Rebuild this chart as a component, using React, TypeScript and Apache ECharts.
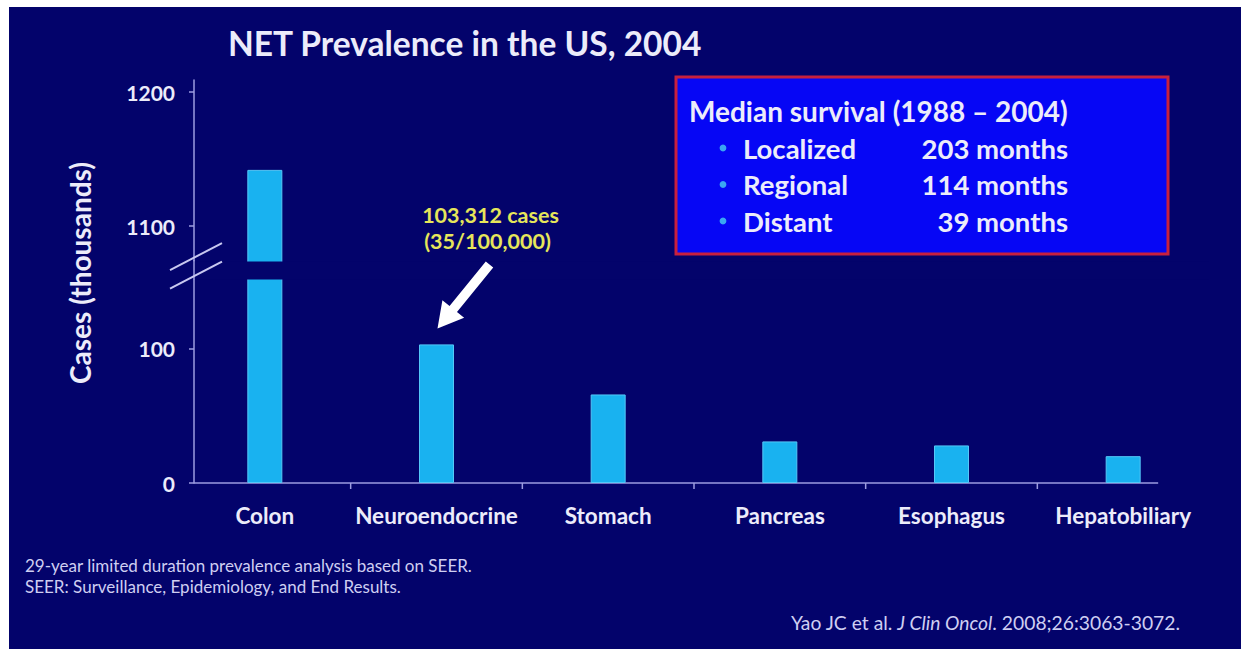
import React, { useEffect, useRef } from "react";
import * as echarts from "echarts";

// Prevalent cases by primary site (thousands)
const categories = ["Colon", "Neuroendocrine", "Stomach", "Pancreas", "Esophagus", "Hepatobiliary"];
const casesThousands = [1142, 103.312, 66, 31, 28, 20];
const yTickValues = [0, 100, 1100, 1200];
const axisBreak = { start: 152, end: 1074 };

// Median survival by stage
const survivalStages = ["Localized", "Regional", "Distant"];
const survivalMonths = [203, 114, 39];

const footnotes = [
  "29-year limited duration prevalence analysis based on SEER.",
  "SEER: Surveillance, Epidemiology, and End Results.",
];

const BG = "#03036b";
const AXIS = "#9c9ce0";
const TEXT = "#ececfa";
const BAR = "#19b2f0";
const FONT = 'Lato, "Open Sans", sans-serif';

// chart box position on the page
const OX = 9;
const OY = 7;
const W = 1241 - OX;
const H = 649 - OY;
const px = (x: number) => x - OX;
const py = (y: number) => y - OY;

const GRID_LEFT = 170;
const AXIS_SHIFT = 15;

export default function App() {
  const ref = useRef<HTMLDivElement>(null);

  useEffect(() => {
    if (!ref.current) return;
    const chart = echarts.init(ref.current, undefined, { renderer: "svg" });

    const staticGraphics: any[] = [
      {
        type: "text",
        x: px(228),
        y: py(43),
        style: { text: "NET Prevalence in the US, 2004", fill: TEXT, font: `bold 33.5px ${FONT}`, align: "left", verticalAlign: "middle" },
      },
      {
        type: "text",
        x: px(80),
        y: py(273),
        rotation: Math.PI / 2,
        style: { text: "Cases (thousands)", fill: TEXT, font: `bold 28px ${FONT}`, align: "center", verticalAlign: "middle" },
      },
      {
        type: "rect",
        shape: { x: px(676), y: py(77), width: 492, height: 177 },
        style: { fill: "#0606f5", stroke: "#c8203e", lineWidth: 3 },
      },
      {
        type: "text",
        x: px(689),
        y: py(111),
        style: { text: "Median survival (1988 \u2013 2004)", fill: TEXT, font: `bold 28px ${FONT}`, align: "left", verticalAlign: "middle" },
      },
      ...survivalStages.flatMap((stage, i) => {
        const y = py(148 + i * 36.5);
        return [
          { type: "circle", shape: { cx: px(723), cy: y, r: 3.4 }, style: { fill: "#3aa6f2" } },
          {
            type: "text",
            x: px(743),
            y,
            style: { text: stage, fill: TEXT, font: `bold 27.5px ${FONT}`, align: "left", verticalAlign: "middle" },
          },
          {
            type: "text",
            x: px(1068),
            y,
            style: { text: `${survivalMonths[i]} months`, fill: TEXT, font: `bold 27.5px ${FONT}`, align: "right", verticalAlign: "middle" },
          },
        ];
      }),
      ...footnotes.map((t, i) => ({
        type: "text",
        x: px(25),
        y: py(565 + i * 21),
        style: { text: t, fill: "#cfcff2", font: `17px ${FONT}`, align: "left", verticalAlign: "middle" },
      })),
      {
        type: "text",
        x: px(1180),
        y: py(622),
        style: {
          text: "{n|Yao JC et al. }{i|J Clin Oncol}{n|. 2008;26:3063-3072.}",
          align: "right",
          verticalAlign: "middle",
          rich: {
            n: { fill: "#cfcff2", font: `19.3px ${FONT}` },
            i: { fill: "#cfcff2", font: `italic 19.3px ${FONT}` },
          },
        },
      },
    ];

    chart.setOption({
      animation: false,
      backgroundColor: BG,
      grid: { left: GRID_LEFT, right: 32, top: 73, bottom: 166, containLabel: false },
      xAxis: {
        type: "category",
        data: categories,
        axisLine: { show: false },
        axisTick: { show: false },
        axisLabel: { color: TEXT, fontFamily: FONT, fontSize: 22.5, fontWeight: "bold", margin: 21, interval: 0 },
        splitLine: { show: false },
      },
      yAxis: {
        type: "value",
        min: 0,
        max: 1209,
        offset: -AXIS_SHIFT,
        breaks: [{ start: axisBreak.start, end: axisBreak.end, gap: 13.4 }],
        breakArea: {
          show: true,
          expandOnClick: false,
          zigzagAmplitude: 0,
          itemStyle: { color: BG, borderColor: BG, borderWidth: 0, opacity: 1 },
        },
        axisLine: { show: true, lineStyle: { color: AXIS, width: 1.5 } },
        axisTick: { show: true, length: 5, lineStyle: { color: AXIS, width: 1.5 }, customValues: yTickValues },
        axisLabel: {
          color: TEXT,
          fontFamily: FONT,
          fontSize: 21,
          fontWeight: "bold",
          margin: 19,
          customValues: yTickValues,
          formatter: (v: number) => String(v),
        },
        splitLine: { show: false },
      },
      series: [
        {
          type: "bar",
          data: casesThousands,
          barWidth: 35,
          itemStyle: { color: BAR, borderColor: "#55c8f8", borderWidth: 1 },
        },
      ],
      graphic: staticGraphics,
    });

    // Decorations placed from the axes' own scales
    const pt = (ci: number, v: number) => chart.convertToPixel({ gridIndex: 0 }, [ci, v]) as number[];
    const axisX = GRID_LEFT + AXIS_SHIFT;
    const y0 = pt(0, 0)[1];
    const lastX = pt(categories.length - 1, 0)[0];
    const yGapTop = pt(0, axisBreak.end)[1];
    const yGapBot = pt(0, axisBreak.start)[1];
    const lineStyle = { stroke: AXIS, lineWidth: 1.5 };

    const extra: any[] = [
      { type: "line", shape: { x1: axisX, y1: y0, x2: lastX + 35, y2: y0 }, style: lineStyle },
      // value axis runs on through the break
      { type: "line", z: 150, shape: { x1: axisX, y1: yGapTop - 1, x2: axisX, y2: yGapBot + 1 }, style: lineStyle },
    ];
    for (let i = 0; i < categories.length - 1; i++) {
      const x = (pt(i, 0)[0] + pt(i + 1, 0)[0]) / 2;
      extra.push({ type: "line", shape: { x1: x, y1: y0, x2: x, y2: y0 + 6 }, style: lineStyle });
    }
    // break marks across the value axis
    [yGapTop - 4.5, yGapBot - 4].forEach((cy) => {
      extra.push({
        type: "line",
        z: 200,
        shape: { x1: axisX - 24, y1: cy + 13.5, x2: axisX + 28, y2: cy - 13.5 },
        style: { stroke: "#c8c8f0", lineWidth: 2 },
      });
    });

    // callout for the neuroendocrine bar
    const [ax, ay] = pt(1, casesThousands[1]);
    extra.push(
      {
        type: "text",
        z: 200,
        x: ax + 54,
        y: ay - 129,
        style: { text: "103,312 cases", fill: "#e6e65a", font: `bold 21.5px ${FONT}`, align: "center", verticalAlign: "middle" },
      },
      {
        type: "text",
        z: 200,
        x: ax + 51,
        y: ay - 103,
        style: { text: "(35/100,000)", fill: "#e6e65a", font: `bold 21.5px ${FONT}`, align: "center", verticalAlign: "middle" },
      }
    );
    const tail = [ax + 53, ay - 80];
    const tip = [ax + 1, ay - 16];
    const dx = tip[0] - tail[0];
    const dy = tip[1] - tail[1];
    const len = Math.hypot(dx, dy);
    const ux = dx / len, uy = dy / len;
    const nx = -uy, ny = ux;
    const hb = [tip[0] - ux * 25, tip[1] - uy * 25];
    const s = 4.8, h = 14;
    extra.push({
      type: "polygon",
      z: 200,
      shape: {
        points: [
          [tail[0] + nx * s, tail[1] + ny * s],
          [hb[0] + nx * s, hb[1] + ny * s],
          [hb[0] + nx * h, hb[1] + ny * h],
          tip,
          [hb[0] - nx * h, hb[1] - ny * h],
          [hb[0] - nx * s, hb[1] - ny * s],
          [tail[0] - nx * s, tail[1] - ny * s],
        ],
      },
      style: { fill: "#ffffff" },
    });

    chart.setOption({ graphic: [...staticGraphics, ...extra] });

    return () => chart.dispose();
  }, []);

  return (
    <div
      ref={ref}
      style={{ position: "fixed", left: OX, top: OY, width: W, height: H }}
    />
  );
}
